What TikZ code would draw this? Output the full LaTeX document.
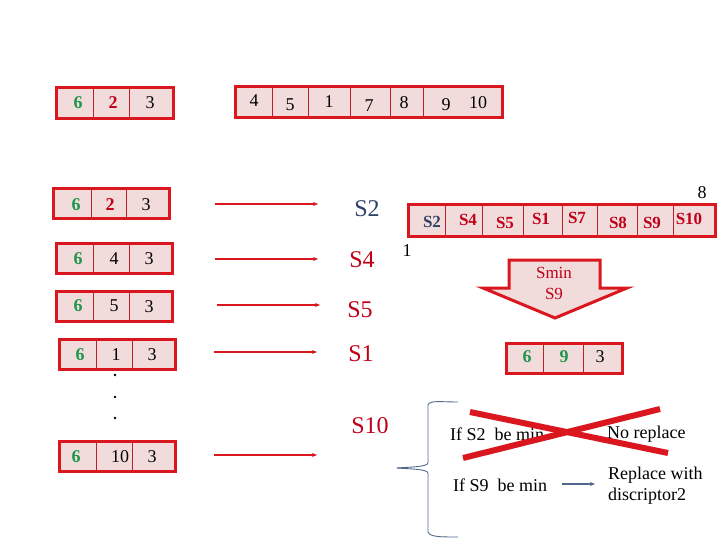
\documentclass[tikz,border=0pt]{standalone}
\usepackage{fontspec}
\setmainfont{Liberation Serif}
\usetikzlibrary{arrows.meta}
\definecolor{frameR}{RGB}{218,22,30}
\definecolor{divR}{RGB}{190,30,40}
\definecolor{pinkF}{RGB}{242,220,219}
\definecolor{greenT}{RGB}{30,150,75}
\definecolor{redT}{RGB}{192,0,24}
\definecolor{navyT}{RGB}{46,66,105}
\definecolor{braceC}{RGB}{80,105,140}
\tikzset{
  frame/.style={draw=frameR, line width=3pt, fill=pinkF},
  divider/.style={draw=divR, line width=0.8pt},
  dig/.style={inner sep=0pt, font=\fontsize{18}{21}\selectfont},
  gdig/.style={dig, text=greenT, font=\fontsize{18}{21}\selectfont\bfseries},
  rdig/.style={dig, text=redT, font=\fontsize{18}{21}\selectfont\bfseries},
  slab/.style={inner sep=0pt, text=redT, font=\fontsize{24}{27}\selectfont},
  sbox/.style={inner sep=0pt, text=redT, font=\fontsize{17}{20}\selectfont\bfseries},
  txt/.style={inner sep=0pt, font=\fontsize{18}{21}\selectfont},
  redarrow/.style={draw=frameR, line width=1.6pt, -{Stealth[length=5pt,width=4pt]}},
}
\begin{document}
\begin{tikzpicture}[x=1pt,y=-1pt]
\useasboundingbox (0,0) rectangle (720,540);
\fill[white] (0,0) rectangle (720,540);

% top-left box
\draw[frame] (56,88) rectangle (173,119);
\draw[divider] (93,88) -- (93,119) (129,88) -- (129,119);
\node[gdig] (t6) at (78,103) {6};
\node[rdig] (t2) at (113,103) {2};
\node[dig] (t3) at (150,103) {3};

% top sequence box
\draw[frame] (235,87) rectangle (502,118);
\draw[divider] (272,87) -- (272,118) (308,87) -- (308,118) (350,87) -- (350,118) (390,87) -- (390,118) (423,87) -- (423,118);
\node[dig] (q4) at (254,101) {4};
\node[dig] (q5) at (290,105) {5};
\node[dig] (q1) at (329,102) {1};
\node[dig] (q7) at (369,106) {7};
\node[dig] (q8) at (404,103) {8};
\node[dig] (q9) at (446,105) {9};
\node[dig] (q10) at (478,103) {10};

% left column rows
\draw[frame] (53,189) rectangle (169,219);
\draw[divider] (91,189) -- (91,219) (126,189) -- (126,219);
\node[gdig] (a1) at (76,205) {6};
\node[rdig] (a2) at (110,205) {2};
\node[dig] (a3) at (146,205) {3};

\draw[frame] (56,243) rectangle (172,273);
\draw[divider] (93,243) -- (93,273) (129,243) -- (129,273);
\node[gdig] (b1) at (78,259) {6};
\node[dig] (b2) at (114,259) {4};
\node[dig] (b3) at (149,259) {3};

\draw[frame] (56,291) rectangle (172,321);
\draw[divider] (93,291) -- (93,321) (129,291) -- (129,321);
\node[gdig] (c1) at (78,306) {6};
\node[dig] (c2) at (114,306) {5};
\node[dig] (c3) at (149,307) {3};

\draw[frame] (59,339) rectangle (175,369);
\draw[divider] (96,339) -- (96,369) (132,339) -- (132,369);
\node[gdig] (d1) at (80,355) {6};
\node[dig] (d2) at (116,355) {1};
\node[dig] (d3) at (152,355) {3};

\fill (115,375) circle (1.3pt) (115,397) circle (1.3pt) (115,418) circle (1.3pt);

\draw[frame] (59,441) rectangle (175,471);
\draw[divider] (96,441) -- (96,471) (132,441) -- (132,471);
\node[gdig] (e1) at (76,457) {6};
\node[dig] (e2) at (120,457) {10};
\node[dig] (e3) at (152,457) {3};

% arrows and S labels
\node[slab, text=navyT] (s2) at (367,209) {S2};
\node[slab] (s4) at (362,260) {S4};
\node[slab] (s5) at (360,310) {S5};
\node[slab] (s1) at (361,354) {S1};
\node[slab] (s10) at (370,426) {S10};
\coordinate (ar1s) at (215,204); \coordinate (ar1e) at (318,204);
\coordinate (ar2s) at (215,259); \coordinate (ar2e) at (318,259);
\coordinate (ar3s) at (217,305); \coordinate (ar3e) at (320,305);
\coordinate (ar4s) at (214,352); \coordinate (ar4e) at (317,352);
\coordinate (ar5s) at (214,455); \coordinate (ar5e) at (317,455);
\draw[redarrow] (ar1s) -- (ar1e);
\draw[redarrow] (ar2s) -- (ar2e);
\draw[redarrow] (ar3s) -- (ar3e);
\draw[redarrow] (ar4s) -- (ar4e);
\draw[redarrow] (ar5s) -- (ar5e);

% sorted S box
\draw[frame] (408,205) rectangle (715,236);
\draw[divider] (445,205) -- (445,236) (482,205) -- (482,236) (523,205) -- (523,236) (562,205) -- (562,236) (597,205) -- (597,236) (637,205) -- (637,236) (673,205) -- (673,236);
\node[sbox, text=navyT] (z2) at (432,222) {S2};
\node[sbox] (z4) at (468,220) {S4};
\node[sbox] (z5) at (505,223) {S5};
\node[sbox] (z1) at (541,219) {S1};
\node[sbox] (z7) at (577,218) {S7};
\node[sbox] (z8) at (618,223) {S8};
\node[sbox] (z9) at (652,223) {S9};
\node[sbox] (z10) at (689,219) {S10};
\node[dig] (idx8) at (702,193) {8};
\node[dig] (idx1) at (407,251) {1};

% big down arrow
\draw[frameR, line width=3pt, fill=pinkF, line join=miter]
  (509,260) -- (600,260) -- (600,288) -- (627,288) -- (555,318) -- (483,288) -- (509,288) -- cycle;
\node[inner sep=0pt, text=redT, font=\fontsize{17}{20}\selectfont, align=center] (smin) at (554,283) {Smin\\[1pt]S9};

% result box
\draw[frame] (506,343) rectangle (622,373);
\draw[divider] (543,343) -- (543,373) (583,343) -- (583,373);
\node[gdig] (r1) at (527,357) {6};
\node[gdig] (r2) at (564,357) {9};
\node[dig] (r3) at (600,357) {3};

% brace
\draw[braceC, line width=0.9pt, line join=round]
  (458,402) .. controls (440,402) and (430,400) .. (428,405) -- (428,463)
  .. controls (427,467) and (410,467) .. (397,468);
\draw[braceC, line width=0.9pt, line join=round]
  (397,468) .. controls (410,469) and (427,469) .. (428,473) -- (428,532)
  .. controls (430,537) and (440,537) .. (458,537);

% texts
\node[txt, anchor=west] (ifs2) at (450,434) {If S2\ \ be min};
\node[txt, anchor=west] (norep) at (607,434) {No replace};
\node[txt, anchor=west] (ifs9) at (453,485) {If S9\ \ be min};
\node[txt, anchor=west, align=left] (rep) at (608,486) {Replace with\\discriptor2};
\coordinate (bas) at (562,484);
\coordinate (bae) at (595,484);
\draw[braceC, line width=1.2pt, -{Stealth[length=5pt,width=4pt]}] (bas) -- (bae);

% red cross
\draw[frameR, line width=6pt] (470,412) -- (668,453);
\draw[frameR, line width=6pt] (463,458) -- (660,409);
\end{tikzpicture}
\end{document}
